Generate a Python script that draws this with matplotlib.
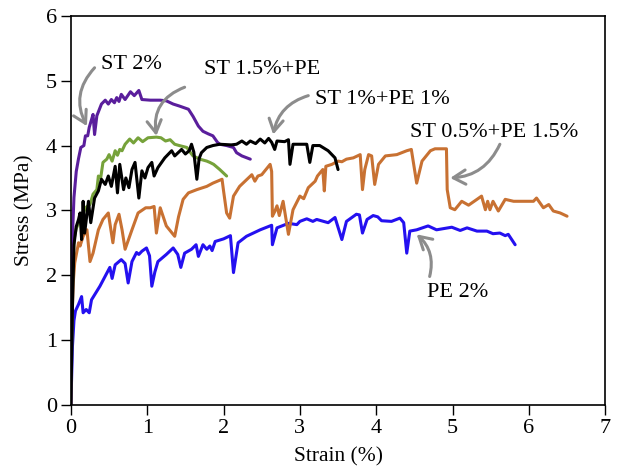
import matplotlib
matplotlib.use("Agg")
import matplotlib.pyplot as plt

plt.rcParams['font.family'] = ['Liberation Serif', 'DejaVu Serif']
plt.rcParams['font.size'] = 16

# strain (%) / stress (MPa)
pe2_x = [0, 0.02, 0.04, 0.06, 0.10, 0.14, 0.16, 0.20, 0.24, 0.27, 0.38, 0.51, 0.54, 0.58, 0.66, 0.71,
         0.75, 0.80, 0.86, 0.89, 0.93, 0.99, 1.03, 1.06, 1.10, 1.14, 1.25, 1.34, 1.40, 1.44, 1.49, 1.58,
         1.64, 1.67, 1.73, 1.78, 1.82, 1.85, 1.89, 2.00, 2.09, 2.13, 2.19, 2.30, 2.48, 2.63, 2.64, 2.70,
         2.85, 2.96, 3.00, 3.09, 3.17, 3.22, 3.37, 3.46, 3.55, 3.61, 3.74, 3.78, 3.82, 3.88, 3.96, 4.02,
         4.07, 4.20, 4.31, 4.36, 4.40, 4.44, 4.53, 4.68, 4.79, 4.99, 5.10, 5.19, 5.32, 5.45, 5.53, 5.62,
         5.69, 5.73, 5.82]
pe2_y = [0, 0.9, 1.3, 1.45, 1.55, 1.67, 1.42, 1.47, 1.42, 1.62, 1.83, 2.12, 1.95, 2.16, 2.24, 2.18,
         1.88, 2.21, 2.35, 2.32, 2.37, 2.42, 2.30, 1.83, 2.05, 2.21, 2.32, 2.42, 2.32, 2.12, 2.34, 2.40,
         2.47, 2.29, 2.47, 2.40, 2.45, 2.38, 2.52, 2.56, 2.61, 2.04, 2.50, 2.60, 2.70, 2.77, 2.47, 2.73,
         2.80, 2.78, 2.83, 2.87, 2.83, 2.86, 2.81, 2.89, 2.55, 2.83, 2.94, 2.93, 2.65, 2.86, 2.92, 2.90,
         2.84, 2.83, 2.88, 2.81, 2.34, 2.68, 2.70, 2.76, 2.70, 2.74, 2.69, 2.73, 2.68, 2.68, 2.64, 2.65,
         2.61, 2.63, 2.47]

st05_x = [0, 0.01, 0.03, 0.05, 0.10, 0.12, 0.16, 0.21, 0.25, 0.29, 0.36, 0.42, 0.49, 0.55, 0.58, 0.63,
          0.67, 0.71, 0.80, 0.88, 0.98, 1.04, 1.09, 1.12, 1.17, 1.25, 1.36, 1.41, 1.47, 1.54, 1.65, 1.78,
          1.86, 1.92, 1.98, 2.00, 2.04, 2.08, 2.13, 2.21, 2.37, 2.41, 2.45, 2.50, 2.61, 2.63, 2.64, 2.67,
          2.70, 2.73, 2.78, 2.85, 2.91, 3.00, 3.05, 3.11, 3.20, 3.23, 3.30, 3.32, 3.34, 3.42, 3.50, 3.55,
          3.61, 3.70, 3.79, 3.82, 3.85, 3.90, 3.94, 3.98, 4.03, 4.12, 4.27, 4.40, 4.46, 4.53, 4.60, 4.71,
          4.77, 4.92, 4.93, 4.97, 5.03, 5.12, 5.21, 5.32, 5.38, 5.43, 5.46, 5.49, 5.53, 5.60, 5.69, 5.80,
          6.06, 6.10, 6.19, 6.26, 6.32, 6.41, 6.50]
st05_y = [0, 1.2, 1.88, 2.19, 2.50, 2.45, 2.60, 2.70, 2.21, 2.34, 2.70, 2.86, 2.96, 2.50, 2.78, 2.94,
          2.70, 2.40, 2.70, 2.96, 3.04, 3.04, 3.06, 2.65, 3.04, 2.76, 2.60, 2.90, 3.17, 3.27, 3.32, 3.37,
          3.42, 3.45, 3.48, 3.30, 2.96, 2.88, 3.22, 3.37, 3.55, 3.45, 3.53, 3.55, 3.71, 3.60, 2.91, 2.98,
          3.07, 2.92, 3.14, 2.63, 3.01, 3.22, 3.18, 3.35, 3.45, 3.53, 3.63, 3.30, 3.68, 3.71, 3.76, 3.75,
          3.79, 3.81, 3.86, 3.32, 3.63, 3.86, 3.84, 3.40, 3.71, 3.84, 3.86, 3.92, 3.94, 3.42, 3.76, 3.92,
          3.95, 3.95, 3.32, 3.04, 3.01, 3.14, 3.08, 3.17, 3.22, 3.01, 3.14, 3.01, 3.14, 2.99, 3.17, 3.14,
          3.14, 3.19, 3.04, 3.09, 2.99, 2.96, 2.91]

st15_x = [0, 0.02, 0.04, 0.07, 0.10, 0.13, 0.16, 0.20, 0.25, 0.29, 0.34, 0.36, 0.39, 0.42, 0.47, 0.50,
          0.54, 0.58, 0.61, 0.64, 0.67, 0.71, 0.77, 0.82, 0.88, 0.94, 1.01, 1.12, 1.18, 1.24, 1.30, 1.36,
          1.42, 1.52, 1.56, 1.60, 1.69, 1.78, 1.82, 1.87, 1.95, 2.04]
st15_y = [0, 1.8, 2.55, 2.72, 2.80, 2.92, 2.96, 3.05, 3.09, 3.25, 3.32, 3.53, 3.50, 3.74, 3.79, 3.86,
          3.76, 3.92, 3.85, 3.94, 3.92, 4.02, 4.10, 4.04, 4.12, 4.06, 4.12, 4.13, 4.12, 4.07, 4.09, 4.02,
          4.00, 3.97, 3.90, 3.84, 3.79, 3.76, 3.74, 3.71, 3.63, 3.53]

st1_x = [0, 0.02, 0.04, 0.07, 0.10, 0.12, 0.14, 0.16, 0.18, 0.23, 0.26, 0.31, 0.36, 0.40, 0.45, 0.49,
         0.53, 0.58, 0.61, 0.64, 0.69, 0.72, 0.76, 0.80, 0.84, 0.89, 0.93, 0.97, 1.01, 1.06, 1.09, 1.14,
         1.23, 1.32, 1.36, 1.45, 1.50, 1.55, 1.58, 1.61, 1.65, 1.68, 1.71, 1.78, 1.86, 1.95, 2.10, 2.17,
         2.24, 2.30, 2.35, 2.42, 2.48, 2.54, 2.59, 2.63, 2.67, 2.70, 2.80, 2.85, 2.87, 2.91, 3.09, 3.13,
         3.17, 3.26, 3.37, 3.46, 3.50]
st1_y = [0, 1.5, 2.47, 2.75, 2.86, 2.96, 2.55, 3.14, 2.65, 3.14, 2.81, 3.19, 3.30, 3.48, 3.40, 3.53,
         3.37, 3.68, 3.27, 3.71, 3.32, 3.50, 3.35, 3.63, 3.74, 3.19, 3.61, 3.50, 3.66, 3.74, 3.53, 3.66,
         3.81, 3.92, 3.84, 3.94, 3.87, 3.92, 4.02, 3.90, 3.48, 3.80, 3.89, 3.97, 4.00, 4.02, 4.01, 4.02,
         4.07, 4.02, 4.07, 4.03, 4.10, 4.04, 4.11, 4.05, 3.94, 4.07, 4.06, 4.09, 3.71, 4.02, 4.02, 3.74,
         4.00, 4.00, 3.92, 3.81, 3.63]

st2_x = [0, 0.01, 0.02, 0.04, 0.07, 0.10, 0.13, 0.17, 0.19, 0.22, 0.24, 0.27, 0.29, 0.31, 0.34, 0.40,
         0.45, 0.49, 0.53, 0.57, 0.60, 0.63, 0.66, 0.71, 0.78, 0.83, 0.89, 0.93, 1.04, 1.17, 1.25, 1.34,
         1.42, 1.54, 1.60, 1.67, 1.73, 1.80, 1.86, 1.92, 1.95, 2.04, 2.13, 2.17, 2.24, 2.35]
st2_y = [0, 1.5, 2.6, 3.2, 3.6, 3.8, 3.97, 4.0, 4.15, 4.15, 4.28, 4.40, 4.48, 4.17, 4.46, 4.64,
         4.70, 4.64, 4.71, 4.66, 4.74, 4.68, 4.79, 4.71, 4.83, 4.77, 4.85, 4.71, 4.70, 4.70, 4.69, 4.64,
         4.61, 4.56, 4.45, 4.30, 4.22, 4.18, 4.15, 4.05, 4.02, 4.00, 3.97, 3.89, 3.84, 3.79]

labels = ["ST 2%", "ST 1.5%+PE", "ST 1%+PE 1%", "ST 0.5%+PE 1.5%", "PE 2%"]
label_pos = [(0.39, 5.25), (1.74, 5.18), (3.2, 4.71), (4.44, 4.2), (4.66, 1.73)]
arrow_tail = [(0.31, 5.2), (1.49, 4.9), (3.11, 4.77), (5.62, 4.02), (4.70, 1.98)]
arrow_tip = [(0.21, 4.30), (1.12, 4.15), (2.65, 4.17), (4.97, 3.50), (4.53, 2.63)]
arrow_rad = [0.35, 0.4, 0.3, -0.3, 0.3]

fig = plt.figure(figsize=(6.22, 4.68), dpi=100)
ax = fig.add_axes([0.114, 0.135, 0.859, 0.831])

lw = 2.2
kw = dict(lw=lw, solid_joinstyle='round', solid_capstyle='round')
ax.plot(pe2_x, pe2_y, color='#2410f0', **kw)
ax.plot(st05_x, st05_y, color='#c87132', **kw)
ax.plot(st15_x, st15_y, color='#76a23a', **kw)
ax.plot(st2_x, st2_y, color='#5a1e9c', **kw)
ax.plot(st1_x, st1_y, color='black', **kw)

for i in range(len(labels)):
    ax.text(label_pos[i][0], label_pos[i][1], labels[i], ha='left', va='center', fontsize=16)
    ax.annotate("", xy=arrow_tip[i], xytext=arrow_tail[i],
                arrowprops=dict(arrowstyle='->,head_length=0.55,head_width=0.32', color='#8c8c8c', lw=2.2,
                                shrinkA=0, shrinkB=0,
                                connectionstyle='arc3,rad=%s' % arrow_rad[i]))

ax.set_xlim(0, 7)
ax.set_ylim(0, 6)
ax.set_xticks(range(0, 8))
ax.set_yticks(range(0, 7))
ax.set_xlabel('Strain (%)', labelpad=7, fontsize=15.5)
ax.set_ylabel('Stress (MPa)', labelpad=8, fontsize=15.5)
ax.tick_params(direction='out', length=7, width=1, top=False, right=False, pad=3)
for s in ax.spines.values():
    s.set_linewidth(1.2)

fig.savefig('out.png', dpi=100)
